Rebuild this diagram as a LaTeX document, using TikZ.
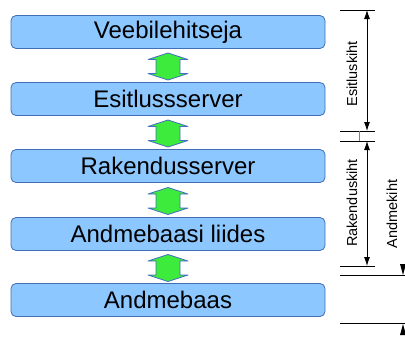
\documentclass[tikz,border=0pt]{standalone}
\usepackage{fontspec}
\setmainfont{Liberation Sans}
\usetikzlibrary{calc,arrows.meta}
\definecolor{boxfill}{RGB}{140,199,255}
\definecolor{boxline}{RGB}{66,110,180}
\definecolor{arrowfill}{RGB}{60,235,60}
\definecolor{arrowline}{RGB}{70,110,190}
\begin{document}
\begin{tikzpicture}[x=1pt, y=-1pt,
	layer/.style={draw=boxline, fill=boxfill, rounded corners=5pt, line width=0.8pt,
		minimum width=314pt, minimum height=33pt, inner sep=0pt,
		font=\fontsize{24}{28}\selectfont},
	updown/.style={draw=arrowline, fill=arrowfill, line width=0.8pt, line join=round},
	dimtext/.style={rotate=90, inner sep=0pt, font=\fontsize{14.5}{16}\selectfont},
	tick/.style={line width=0.8pt},
	dimarrow/.style={{Latex[length=9pt,width=6pt]}-{Latex[length=9pt,width=6pt]}, line width=0.8pt}]
	\useasboundingbox (0,0) rectangle (405,338);
	% layers
	\node[layer] at (168,32) (veeb) {Veebilehitseja};
	\node[layer] at (168,99) (esit) {Esitlussserver};
	\node[layer] at (168,166) (rak) {Rakendusserver};
	\node[layer] at (168,234) (liides) {Andmebaasi liides};
	\node[layer] at (168,300) (baas) {Andmebaas};
	% block arrows between layers
	\foreach \a/\b in {veeb/esit, esit/rak, rak/liides, liides/baas}{
		\path ($(\a.south)!0.5!(\b.north)$) coordinate (m);
		\draw[updown] (m) ++(0,-12.5) -- ++(20,6.5) -- ++(-8,0) -- ++(0,14) -- ++(8,0)
			-- ++(-20,6.5) -- ++(-20,-6.5) -- ++(8,0) -- ++(0,-14) -- ++(-8,0) -- cycle;
	}
	% dimension marks
	\coordinate (e1) at (367,10);
	\coordinate (e2) at (367,131);
	\coordinate (r1) at (367,141);
	\coordinate (r2) at (367,266);
	\draw[tick] (340,10) -- (375,10);
	\draw[tick] (340,131) -- (375,131);
	\draw[tick] (340,141) -- (375,141);
	\draw[tick] (340,266) -- (375,266);
	\draw[tick] (340,275) -- (405,275);
	\draw[tick] (340,323) -- (405,323);
	\draw[gray, line width=0.6pt] (359,131) -- (359,141);
	\draw[dimarrow] (e1) -- (e2);
	\draw[dimarrow] (r1) -- (r2);
	\fill (403,275) -- (400,264) -- (406,264) -- cycle;
	\fill (403,324) -- (400,335) -- (406,335) -- cycle;
	\node[dimtext] at (352,74) (esitl) {Esitluskiht};
	\node[dimtext] at (352,203) (rakl) {Rakenduskiht};
	\node[dimtext] at (392,214) (andl) {Andmekiht};
\end{tikzpicture}
\end{document}
